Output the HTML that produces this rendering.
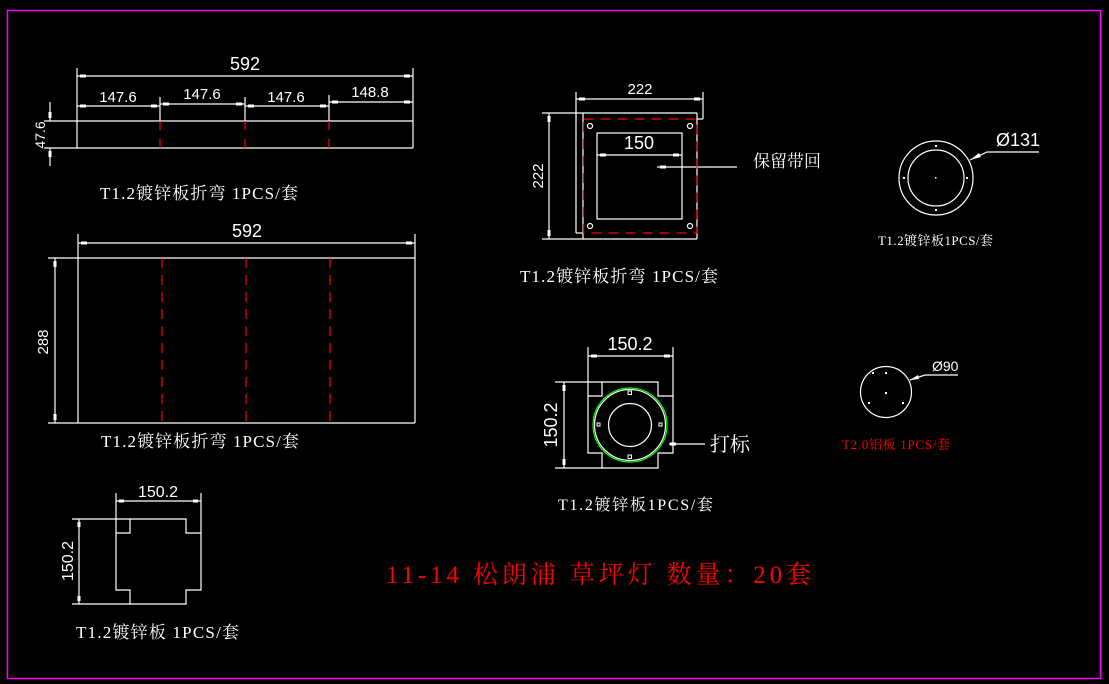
<!DOCTYPE html>
<html><head><meta charset="utf-8"><style>
html,body{margin:0;padding:0;background:#000;}
svg{display:block;}
.n{font-family:"Liberation Sans",sans-serif;fill:#fff;}
.l{font-family:"Liberation Serif","Noto Serif CJK SC",serif;fill:#fff;}
</style></head><body>
<svg width="1109" height="684" viewBox="0 0 1109 684" xmlns="http://www.w3.org/2000/svg">
<rect width="1109" height="684" fill="#000"/>
<rect x="7.5" y="10.5" width="1093" height="668" fill="none" stroke="#ff00ff" stroke-width="1.5"/>
<g stroke="#fff" stroke-width="1.2" fill="none">
<!-- Drawing 1 -->
<line x1="77" y1="68" x2="77" y2="148"/><line x1="413" y1="68" x2="413" y2="148"/>
<line x1="77" y1="76" x2="413" y2="76"/>
<line x1="77" y1="106" x2="160" y2="106"/><line x1="160" y1="104" x2="245" y2="104"/>
<line x1="245" y1="106" x2="329" y2="106"/><line x1="329" y1="102" x2="413" y2="102"/>
<line x1="160" y1="97" x2="160" y2="121"/><line x1="245" y1="97" x2="245" y2="121"/><line x1="329" y1="95" x2="329" y2="121"/>
<line x1="44" y1="121" x2="413" y2="121"/><line x1="44" y1="148" x2="413" y2="148"/>
<line x1="50" y1="102" x2="50" y2="121"/><line x1="50" y1="148" x2="50" y2="166"/>
<!-- Drawing 2 -->
<line x1="78" y1="234" x2="78" y2="423"/><line x1="415" y1="234" x2="415" y2="423"/>
<line x1="78" y1="243" x2="415" y2="243"/>
<line x1="48" y1="258" x2="415" y2="258"/><line x1="48" y1="423" x2="415" y2="423"/>
<line x1="55" y1="258" x2="55" y2="423"/>
<!-- Drawing 3 -->
<line x1="542" y1="113" x2="697" y2="113"/><line x1="542" y1="239" x2="697" y2="239"/>
<line x1="576" y1="92" x2="576" y2="233"/><line x1="576" y1="233" x2="583" y2="233"/>
<line x1="583" y1="113" x2="583" y2="239"/><line x1="697" y1="113" x2="697" y2="239"/>
<line x1="703" y1="92" x2="703" y2="119"/><line x1="697" y1="119" x2="703" y2="119"/>
<line x1="576" y1="99" x2="703" y2="99"/>
<line x1="549" y1="113" x2="549" y2="239"/>
<rect x="597" y="133" width="85" height="86"/>
<line x1="597" y1="155" x2="682" y2="155"/>
<line x1="657" y1="167" x2="737" y2="167"/>
<circle cx="590" cy="126" r="2.5"/><circle cx="690" cy="126" r="2.5"/><circle cx="590" cy="226" r="2.5"/><circle cx="690" cy="226" r="2.5"/>
<!-- Drawing 4 -->
<circle cx="936" cy="178" r="37"/><circle cx="936" cy="178" r="28"/>
<polyline points="970,160 987,152 1039,152"/>
<!-- Drawing 5 -->
<circle cx="886" cy="392" r="25.5"/>
<polyline points="910,380 925,375 958,375"/>
<!-- Drawing 6 -->
<polyline points="602,382 658,382 658,396 673,396 673,453 658,453 658,468 602,468 602,453 588,453 588,396 602,396 602,382"/>
<line x1="555" y1="382" x2="602" y2="382"/><line x1="555" y1="468" x2="602" y2="468"/>
<line x1="588" y1="347" x2="588" y2="396"/><line x1="673" y1="347" x2="673" y2="396"/>
<line x1="588" y1="356" x2="673" y2="356"/>
<line x1="564" y1="382" x2="564" y2="468"/>
<circle cx="630" cy="425" r="35.5"/><circle cx="630" cy="425" r="21.5"/>
<line x1="669" y1="444" x2="705" y2="444"/>
<!-- Drawing 7 -->
<polyline points="130,519 186,519 186,533 201,533 201,590 186,590 186,604 130,604 130,590 116,590 116,533 130,533 130,519"/>
<line x1="72" y1="519" x2="130" y2="519"/><line x1="72" y1="604" x2="130" y2="604"/>
<line x1="116" y1="493" x2="116" y2="533"/><line x1="201" y1="493" x2="201" y2="533"/>
<line x1="116" y1="501" x2="201" y2="501"/>
<line x1="79" y1="519" x2="79" y2="604"/>
</g>
<circle cx="630" cy="425" r="37" fill="none" stroke="#00ff00" stroke-width="1.2"/>
<!-- red dashes -->
<g stroke="#ff0000" stroke-width="1.2" fill="none">
<line x1="160" y1="121" x2="160" y2="130"/><line x1="160" y1="139" x2="160" y2="148"/>
<line x1="245" y1="121" x2="245" y2="130"/><line x1="245" y1="139" x2="245" y2="148"/>
<line x1="329" y1="121" x2="329" y2="130"/><line x1="329" y1="139" x2="329" y2="148"/>
<g stroke-dasharray="10 7"><line x1="162" y1="258" x2="162" y2="423"/><line x1="246" y1="258" x2="246" y2="423"/><line x1="330" y1="258" x2="330" y2="423"/>
<rect x="583.5" y="119" width="113.5" height="114"/></g>
</g>
<!-- arrow ticks -->
<g fill="#fff">
<rect x="80" y="74.5" width="6" height="3"/><rect x="404" y="74.5" width="6" height="3"/>
<rect x="80" y="104.5" width="6" height="3"/><rect x="151" y="104.5" width="6" height="3"/>
<rect x="163" y="102.5" width="6" height="3"/><rect x="236" y="102.5" width="6" height="3"/>
<rect x="248" y="104.5" width="6" height="3"/><rect x="320" y="104.5" width="6" height="3"/>
<rect x="332" y="100.5" width="6" height="3"/><rect x="404" y="100.5" width="6" height="3"/>
<rect x="48.5" y="112" width="3" height="6"/><rect x="48.5" y="151" width="3" height="6"/>
<rect x="81" y="241.5" width="6" height="3"/><rect x="406" y="241.5" width="6" height="3"/>
<rect x="53.5" y="261" width="3" height="6"/><rect x="53.5" y="414" width="3" height="6"/>
<rect x="579" y="97.5" width="6" height="3"/><rect x="694" y="97.5" width="6" height="3"/>
<rect x="547.5" y="116" width="3" height="6"/><rect x="547.5" y="230" width="3" height="6"/>
<rect x="600" y="153.5" width="6" height="3"/><rect x="673" y="153.5" width="6" height="3"/>
<rect x="660" y="165.5" width="6" height="3"/>
<rect x="591" y="354.5" width="6" height="3"/><rect x="664" y="354.5" width="6" height="3"/>
<rect x="562.5" y="385" width="3" height="6"/><rect x="562.5" y="459" width="3" height="6"/>
<rect x="670" y="442.5" width="6" height="3"/>
<rect x="119" y="499.5" width="5" height="3"/><rect x="193" y="499.5" width="5" height="3"/>
<rect x="77.5" y="522" width="3" height="5"/><rect x="77.5" y="596" width="3" height="5"/>
<polygon points="970,160 979,153 981,157"/><polygon points="910,380 918,375 919,379"/>
<rect x="935" y="145" width="2" height="2"/><rect x="935" y="209" width="2" height="2"/><rect x="903" y="177" width="2" height="2"/><rect x="966" y="177" width="2" height="2"/><rect x="935" y="177" width="1.5" height="1.5"/>
<rect x="885" y="372" width="2" height="2"/><rect x="868" y="402" width="2" height="2"/><rect x="902" y="402" width="2" height="2"/><rect x="872" y="372" width="2" height="2"/><rect x="885" y="392" width="2" height="2"/>
</g>
<g fill="none" stroke="#fff" stroke-width="1"><rect x="628" y="391" width="3.5" height="3.5"/><rect x="628" y="455" width="3.5" height="3.5"/><rect x="597" y="423" width="3" height="3"/><rect x="659" y="423" width="3" height="3"/></g>
<!-- text -->
<text class="n" x="245" y="70" font-size="18" text-anchor="middle">592</text>
<text class="n" x="118" y="102" font-size="15" text-anchor="middle">147.6</text>
<text class="n" x="202" y="99" font-size="15" text-anchor="middle">147.6</text>
<text class="n" x="286" y="102" font-size="15" text-anchor="middle">147.6</text>
<text class="n" x="370" y="97" font-size="15" text-anchor="middle">148.8</text>
<text class="n" font-size="14" text-anchor="middle" transform="translate(45,135) rotate(-90)">47.6</text>
<text class="l" x="100" y="199" font-size="17" textLength="198">T1.2镀锌板折弯 1PCS/套</text>
<text class="n" x="247" y="237" font-size="18" text-anchor="middle">592</text>
<text class="n" font-size="15" text-anchor="middle" transform="translate(48,342) rotate(-90)">288</text>
<text class="l" x="101" y="447" font-size="17" textLength="198">T1.2镀锌板折弯 1PCS/套</text>
<text class="n" x="640" y="94" font-size="15" text-anchor="middle">222</text>
<text class="n" font-size="15" text-anchor="middle" transform="translate(543,176) rotate(-90)">222</text>
<text class="n" x="639" y="149" font-size="18" text-anchor="middle">150</text>
<text class="l" x="753" y="167" font-size="17">保留带回</text>
<text class="l" x="520" y="282" font-size="17" textLength="198">T1.2镀锌板折弯 1PCS/套</text>
<text class="n" x="996" y="146" font-size="18">Ø131</text>
<text class="l" x="878" y="245" font-size="13" textLength="115">T1.2镀锌板1PCS/套</text>
<text class="n" x="932" y="371" font-size="14">Ø90</text>
<text class="l" x="842" y="449" font-size="13" fill="#ff0000" style="fill:#ff0000" textLength="108">T2.0铝板 1PCS/套</text>
<text class="n" x="630" y="350" font-size="18" text-anchor="middle">150.2</text>
<text class="n" font-size="18" text-anchor="middle" transform="translate(557,425) rotate(-90)">150.2</text>
<text class="l" x="710" y="451" font-size="20">打标</text>
<text class="l" x="558" y="510" font-size="16" textLength="155">T1.2镀锌板1PCS/套</text>
<text class="n" x="158" y="497" font-size="16" text-anchor="middle">150.2</text>
<text class="n" font-size="16" text-anchor="middle" transform="translate(73,561) rotate(-90)">150.2</text>
<text class="l" x="76" y="638" font-size="17" textLength="163">T1.2镀锌板 1PCS/套</text>
<text class="l" x="386" y="583" font-size="25" style="fill:#ff0000" textLength="425">11-14 松朗浦 草坪灯 数量：20套</text>
</svg>
</body></html>
